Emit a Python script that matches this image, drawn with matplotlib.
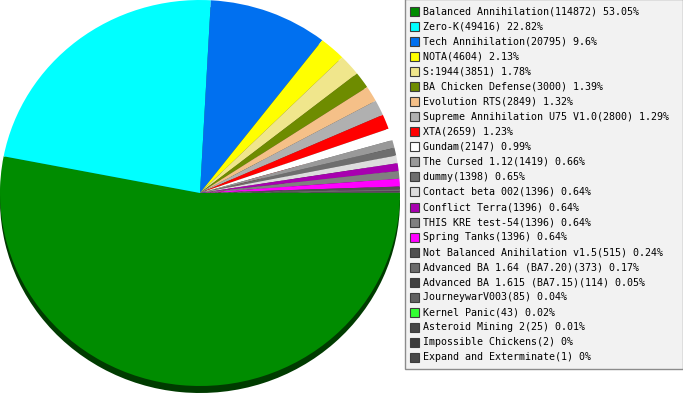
# plot.py
# Pie chart of game/mod usage with a flat 3D shadow and a boxed legend on the right

import matplotlib.pyplot as plt
import matplotlib.colors as mcolors
from matplotlib.patches import Rectangle
import numpy as np

W, H = 683, 400

games = [
    "Balanced Annihilation", "Zero-K", "Tech Annihilation", "NOTA", "S:1944",
    "BA Chicken Defense", "Evolution RTS", "Supreme Annihilation U75 V1.0",
    "XTA", "Gundam", "The Cursed 1.12", "dummy", "Contact beta 002",
    "Conflict Terra", "THIS KRE test-54", "Spring Tanks",
    "Not Balanced Anihilation v1.5", "Advanced BA 1.64 (BA7.20)",
    "Advanced BA 1.615 (BA7.15)", "JourneywarV003", "Kernel Panic",
    "Asteroid Mining 2", "Impossible Chickens", "Expand and Exterminate",
]
counts = [114872, 49416, 20795, 4604, 3851, 3000, 2849, 2800, 2659, 2147,
          1419, 1398, 1396, 1396, 1396, 1396, 515, 373, 114, 85, 43, 25, 2, 1]
colors = [
    "#008c00", "#00ffff", "#0070f0", "#ffff00", "#f0e68c", "#6e8c00",
    "#f5c088", "#b0b0b0", "#ff0000", "#ffffff", "#999999", "#6e6e6e",
    "#dddddd", "#a800b0", "#808080", "#ff00ff", "#505050", "#6a6a6a",
    "#404040", "#606060", "#33ff33", "#464646", "#3a3a3a", "#484848",
]

total = sum(counts)


def fmt_pct(c):
    return f"{round(c / total * 100, 2):g}%"


def darker(c, f=0.42):
    r, g, b = mcolors.to_rgb(c)
    return (r * f, g * f, b * f)


fig = plt.figure(figsize=(W / 100, H / 100), dpi=100)
fig.patch.set_facecolor("white")

# pie area: x 0..400 px, y 0..386 px (from top)
ax = fig.add_axes([0 / W, 1 - 386 / H, 400 / W, 386 / H])
shift = 7 / 193

# shadow (extruded side)
sw, _ = ax.pie(counts, colors=[darker(c) for c in colors], startangle=0,
               counterclock=False, radius=1, center=(0, -shift),
               wedgeprops=dict(linewidth=0))
for w in sw:
    w.set_clip_on(False)
# top face
tw, _ = ax.pie(counts, colors=colors, startangle=0, counterclock=False,
               radius=1, center=(0, 0), wedgeprops=dict(linewidth=0))
for w in tw:
    w.set_clip_on(False)

ax.set_aspect("auto")
ax.set_xlim(-1, 1)
ax.set_ylim(-1, 1)
ax.axis("off")

# legend box (figure pixel coords)
def fx(x):
    return x / W


def fy(y):
    return 1 - y / H


box = Rectangle((fx(405), fy(369)), fx(683) - fx(405), fy(-1) - fy(369),
                transform=fig.transFigure, facecolor="#f2f2f2",
                edgecolor="#8c8c8c", linewidth=1.0)
fig.patches.append(box)

for i, (name, cnt, col) in enumerate(zip(games, counts, colors)):
    yc = 11.5 + 15.04 * i
    sq = Rectangle((fx(410), fy(yc + 4.5)), 9 / W, 9 / H,
                   transform=fig.transFigure, facecolor=col,
                   edgecolor="#3c3c3c", linewidth=0.8)
    fig.patches.append(sq)
    fig.text(fx(423), fy(yc), f"{name}({cnt}) {fmt_pct(cnt)}",
             family="DejaVu Sans Mono", fontsize=7.2, color="black",
             ha="left", va="center")

fig.savefig("out.png", dpi=100, facecolor="white")
